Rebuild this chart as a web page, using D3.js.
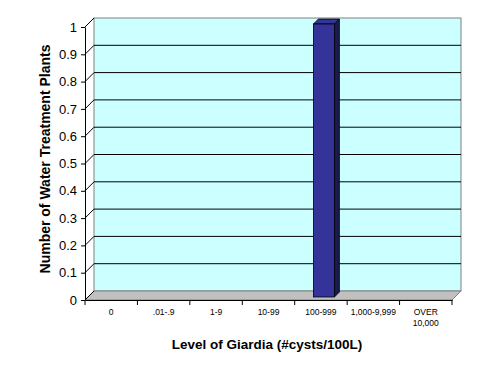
<!DOCTYPE html>
<html>
<head>
<meta charset="utf-8">
<script src="https://cdn.jsdelivr.net/npm/d3@7"></script>
<style>
  body { margin: 0; background: #fff; }
  text { font-family: Arial, "Liberation Sans", sans-serif; }
</style>
</head>
<body>
<svg id="chart" width="491" height="374"></svg>
<script>
const categories = ['0', '.01-.9', '1-9', '10-99', '100-999', '1,000-9,999', 'OVER\n10,000']
const plantCounts = [0, 0, 0, 0, 1, 0, 0]
const yTicks = [0, 0.1, 0.2, 0.3, 0.4, 0.5, 0.6, 0.7, 0.8, 0.9, 1]

const svg = d3.select('#chart')

const plotLeft = 85, plotRight = 452, plotBottom = 300, plotTop = 27
const dx = 9, dy = -9   // depth offset of the back wall

const x = d3.scaleBand().domain(categories).range([plotLeft, plotRight])
const y = d3.scaleLinear().domain([0, 1]).range([plotBottom, plotTop])

// back wall
svg.append('rect')
  .attr('x', plotLeft + dx).attr('y', plotTop + dy)
  .attr('width', plotRight - plotLeft).attr('height', plotBottom - plotTop)
  .attr('fill', '#ccffff')
  .attr('stroke', '#808080')

// floor
svg.append('path')
  .attr('d', `M${plotLeft},${plotBottom}L${plotRight},${plotBottom}L${plotRight + dx},${plotBottom + dy}L${plotLeft + dx},${plotBottom + dy}Z`)
  .attr('fill', '#c0c0c0')
  .attr('stroke', '#808080')

// side wall top edge
svg.append('line')
  .attr('x1', plotLeft).attr('y1', plotTop).attr('x2', plotLeft + dx).attr('y2', plotTop + dy)
  .attr('stroke', '#808080')

// gridlines on back wall
svg.append('g')
  .selectAll('line')
  .data(yTicks.filter(d => d > 0 && d < 1))
  .enter()
  .append('line')
  .attr('x1', plotLeft + dx).attr('x2', plotRight + dx)
  .attr('y1', d => y(d) + dy).attr('y2', d => y(d) + dy)
  .attr('stroke', '#000')

// diagonal tick connectors on the side wall
svg.append('g')
  .selectAll('line')
  .data(yTicks)
  .enter()
  .append('line')
  .attr('x1', plotLeft).attr('y1', d => y(d))
  .attr('x2', plotLeft + dx).attr('y2', d => y(d) + dy)
  .attr('stroke', '#000')

// bars
const depth = 5, shift = 3
const barW = 21
const barData = categories.map((c, i) => ({c, v: plantCounts[i]})).filter(d => d.v > 0)
const barX = d => x(d.c) + x.bandwidth() / 2 - barW / 2 + shift
const bars = svg.append('g')
  .selectAll('g')
  .data(barData)
  .enter()
  .append('g')

bars.append('path')
  .attr('d', d => {
    const x0 = barX(d)
    const y0 = y(d.v) - shift
    return `M${x0},${y0}L${x0 + depth},${y0 - depth}L${x0 + barW + depth},${y0 - depth}L${x0 + barW},${y0}Z`
  })
  .attr('fill', '#333399').attr('stroke', '#000').attr('stroke-width', 0.8)

bars.append('path')
  .attr('d', d => {
    const x0 = barX(d) + barW
    const y0 = y(d.v) - shift
    const y1 = y(0) - shift
    return `M${x0},${y0}L${x0 + depth},${y0 - depth}L${x0 + depth},${y1 - depth}L${x0},${y1}Z`
  })
  .attr('fill', '#1a1a4d').attr('stroke', '#000').attr('stroke-width', 0.8)

bars.append('rect')
  .attr('x', barX)
  .attr('y', d => y(d.v) - shift)
  .attr('width', barW)
  .attr('height', d => y(0) - y(d.v))
  .attr('fill', '#333399').attr('stroke', '#000').attr('stroke-width', 0.8)

// y axis
svg.append('g')
  .attr('transform', `translate(${plotLeft},0)`)
  .call(d3.axisLeft(y).tickValues(yTicks).tickFormat(d3.format('')).tickSize(4).tickSizeOuter(0))
  .call(g => g.selectAll('text').attr('font-size', 13).attr('fill', '#000').attr('dx', -1))
  .call(g => g.selectAll('line, path').attr('stroke', '#000'))

// x axis
const xAxis = svg.append('g')
  .attr('transform', `translate(0,${plotBottom})`)
  .call(d3.axisBottom(x).tickSize(0).tickFormat(''))
xAxis.select('path').attr('stroke', '#000')

svg.append('g')
  .selectAll('line')
  .data(d3.range(categories.length + 1))
  .enter()
  .append('line')
  .attr('x1', i => plotLeft + i * x.step()).attr('x2', i => plotLeft + i * x.step())
  .attr('y1', plotBottom).attr('y2', plotBottom + 5)
  .attr('stroke', '#000')

svg.append('g')
  .selectAll('text')
  .data(categories)
  .enter()
  .append('text')
  .attr('x', d => x(d) + x.bandwidth() / 2)
  .attr('y', 315)
  .attr('text-anchor', 'middle')
  .attr('font-size', 8.5)
  .each(function(d) {
    d.split('\n').forEach((line, i) => {
      d3.select(this).append('tspan')
        .attr('x', x(d) + x.bandwidth() / 2)
        .attr('dy', i === 0 ? 0 : 11)
        .text(line)
    })
  })

// titles
svg.append('text')
  .attr('x', 267).attr('y', 349)
  .attr('text-anchor', 'middle')
  .attr('font-size', 13.5).attr('font-weight', 'bold')
  .text('Level of Giardia (#cysts/100L)')

svg.append('text')
  .attr('transform', 'translate(50,159) rotate(-90)')
  .attr('text-anchor', 'middle')
  .attr('font-size', 14).attr('font-weight', 'bold')
  .text('Number of Water Treatment Plants')
</script>
</body>
</html>
